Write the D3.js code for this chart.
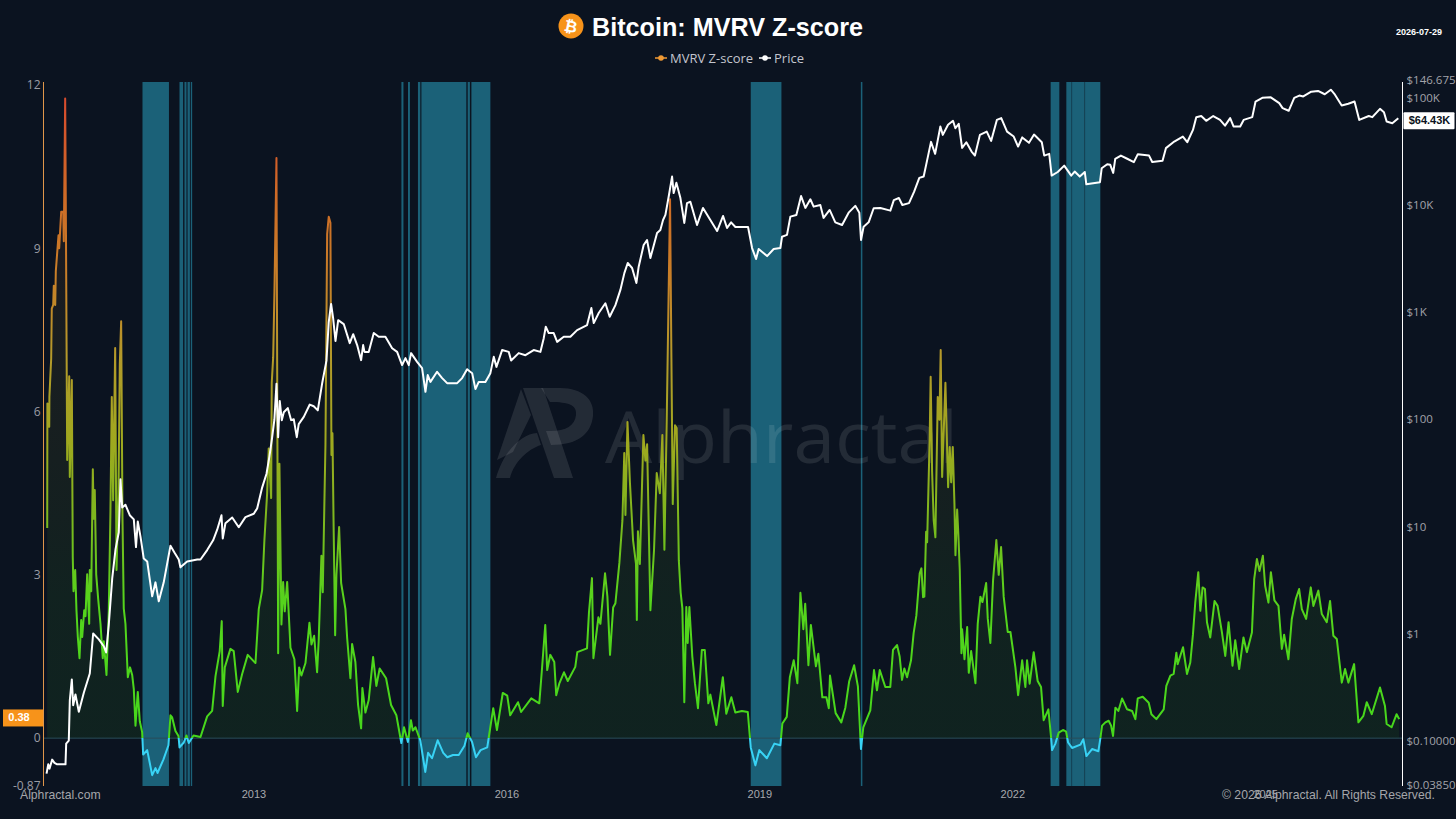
<!DOCTYPE html>
<html>
<head>
<meta charset="utf-8">
<title>Bitcoin: MVRV Z-score</title>
<script src="https://cdn.jsdelivr.net/npm/d3@7"></script>
<style>
    html, body { margin: 0; padding: 0; background: #0b1320; overflow: hidden; }
    svg { display: block; }
    .tick text { fill: #9b9ca4; font-family: "Open Sans", sans-serif; font-size: 12px; }
    .right-axis .tick text { font-size: 11.5px; fill: #a2a3aa; }
    .x-axis .tick text { fill: #a8a9ae; font-family: "Liberation Sans", Arial, sans-serif; font-size: 11px; }
</style>
</head>
<body>
<div id="chart"></div>
<script>
// MVRV Z-score (decimal year / score)
const zYears = [
    2010.554, 2010.556, 2010.578, 2010.58, 2010.601, 2010.608, 2010.625, 2010.632, 2010.649, 2010.656,
    2010.688, 2010.696, 2010.72, 2010.744, 2010.751, 2010.767, 2010.774, 2010.791, 2010.815, 2010.822,
    2010.846, 2010.857, 2010.866, 2010.886, 2010.901, 2010.917, 2010.937, 2010.957, 2010.969, 2010.993,
    2011.008, 2011.028, 2011.052, 2011.059, 2011.076, 2011.095, 2011.106, 2011.118, 2011.135, 2011.159,
    2011.186, 2011.213, 2011.225, 2011.257, 2011.284, 2011.304, 2011.32, 2011.336, 2011.36, 2011.376,
    2011.399, 2011.415, 2011.431, 2011.447, 2011.462, 2011.482, 2011.51, 2011.536, 2011.562, 2011.581,
    2011.601, 2011.628, 2011.652, 2011.68, 2011.692, 2011.74, 2011.799, 2011.838, 2011.862, 2011.933,
    2011.992, 2012.016, 2012.036, 2012.075, 2012.111, 2012.123, 2012.174, 2012.206, 2012.233, 2012.289,
    2012.372, 2012.451, 2012.51, 2012.55, 2012.6, 2012.624, 2012.636, 2012.66, 2012.727, 2012.766,
    2012.814, 2012.866, 2012.932, 2013.024, 2013.063, 2013.103, 2013.13, 2013.162, 2013.181, 2013.21,
    2013.217, 2013.234, 2013.249, 2013.273, 2013.293, 2013.308, 2013.332, 2013.352, 2013.371, 2013.4,
    2013.439, 2013.486, 2013.518, 2013.542, 2013.569, 2013.617, 2013.664, 2013.688, 2013.72, 2013.755,
    2013.774, 2013.806, 2013.822, 2013.854, 2013.874, 2013.893, 2013.913, 2013.925, 2013.937, 2013.952,
    2013.969, 2013.984, 2014.016, 2014.04, 2014.091, 2014.111, 2014.15, 2014.17, 2014.209, 2014.241,
    2014.277, 2014.292, 2014.328, 2014.367, 2014.419, 2014.458, 2014.497, 2014.573, 2014.632, 2014.695,
    2014.754, 2014.786, 2014.832, 2014.868, 2014.89, 2014.922, 2014.979, 2015.038, 2015.071, 2015.118,
    2015.185, 2015.251, 2015.299, 2015.366, 2015.435, 2015.503, 2015.54, 2015.593, 2015.639, 2015.694,
    2015.773, 2015.844, 2015.888, 2015.957, 2016.01, 2016.045, 2016.138, 2016.174, 2016.295, 2016.39,
    2016.419, 2016.461, 2016.484, 2016.52, 2016.568, 2016.591, 2016.627, 2016.683, 2016.728, 2016.817,
    2016.841, 2016.956, 2016.979, 2017.015, 2017.032, 2017.091, 2017.115, 2017.17, 2017.198, 2017.229,
    2017.266, 2017.293, 2017.34, 2017.376, 2017.398, 2017.412, 2017.436, 2017.465, 2017.502, 2017.537,
    2017.547, 2017.56, 2017.583, 2017.625, 2017.649, 2017.669, 2017.708, 2017.751, 2017.783, 2017.82,
    2017.85, 2017.874, 2017.901, 2017.941, 2017.957, 2017.973, 2018.0, 2018.02, 2018.045, 2018.067,
    2018.087, 2018.11, 2018.134, 2018.15, 2018.17, 2018.205, 2018.236, 2018.272, 2018.318, 2018.353,
    2018.395, 2018.419, 2018.49, 2018.522, 2018.567, 2018.608, 2018.668, 2018.715, 2018.793, 2018.863,
    2018.898, 2018.953, 2019.0, 2019.089, 2019.178, 2019.249, 2019.273, 2019.325, 2019.362, 2019.408,
    2019.451, 2019.487, 2019.522, 2019.544, 2019.582, 2019.611, 2019.671, 2019.7, 2019.747, 2019.795,
    2019.824, 2019.838, 2019.905, 2019.972, 2020.02, 2020.065, 2020.124, 2020.169, 2020.205, 2020.233,
    2020.316, 2020.36, 2020.395, 2020.428, 2020.494, 2020.553, 2020.585, 2020.633, 2020.664, 2020.692,
    2020.72, 2020.752, 2020.799, 2020.83, 2020.862, 2020.902, 2020.922, 2020.942, 2020.957, 2020.978,
    2020.99, 2021.02, 2021.032, 2021.049, 2021.068, 2021.088, 2021.116, 2021.136, 2021.151, 2021.168,
    2021.207, 2021.239, 2021.258, 2021.275, 2021.294, 2021.314, 2021.326, 2021.346, 2021.361, 2021.377,
    2021.397, 2021.405, 2021.433, 2021.465, 2021.484, 2021.512, 2021.563, 2021.59, 2021.622, 2021.646,
    2021.69, 2021.709, 2021.74, 2021.772, 2021.811, 2021.839, 2021.867, 2021.898, 2021.946, 2021.978,
    2022.037, 2022.069, 2022.117, 2022.155, 2022.175, 2022.206, 2022.254, 2022.301, 2022.341, 2022.372,
    2022.428, 2022.46, 2022.472, 2022.511, 2022.55, 2022.606, 2022.638, 2022.662, 2022.709, 2022.808,
    2022.843, 2022.879, 2022.946, 2023.021, 2023.045, 2023.065, 2023.104, 2023.143, 2023.172, 2023.195,
    2023.223, 2023.258, 2023.302, 2023.362, 2023.421, 2023.46, 2023.488, 2023.547, 2023.618, 2023.65,
    2023.709, 2023.796, 2023.827, 2023.875, 2023.914, 2023.946, 2023.961, 2024.025, 2024.072, 2024.111,
    2024.143, 2024.17, 2024.206, 2024.23, 2024.257, 2024.285, 2024.309, 2024.348, 2024.399, 2024.435,
    2024.487, 2024.526, 2024.565, 2024.612, 2024.644, 2024.691, 2024.742, 2024.782, 2024.842, 2024.869,
    2024.901, 2024.932, 2024.972, 2024.999, 2025.038, 2025.067, 2025.109, 2025.157, 2025.197, 2025.224,
    2025.275, 2025.315, 2025.363, 2025.402, 2025.434, 2025.485, 2025.54, 2025.571, 2025.63, 2025.671,
    2025.73, 2025.769, 2025.808, 2025.849, 2025.908, 2025.947, 2025.986, 2026.054, 2026.105, 2026.164,
    2026.204, 2026.263, 2026.361, 2026.42, 2026.44, 2026.499, 2026.558, 2026.589
];
const zValues = [
    3.86, 6.15, 5.72, 6.27, 6.97, 7.89, 7.96, 8.31, 7.96, 8.58,
    9.24, 9.0, 9.67, 9.67, 9.13, 11.75, 9.98, 5.11, 6.65, 4.8,
    6.58, 3.33, 2.7, 3.09, 2.35, 1.86, 1.47, 2.17, 1.86, 2.35,
    2.24, 3.01, 2.1, 3.09, 2.7, 4.94, 4.03, 4.56, 3.01, 2.55,
    2.1, 1.47, 1.78, 1.16, 2.32, 4.17, 6.27, 4.37, 7.17, 3.09,
    4.49, 6.87, 7.66, 4.03, 2.38, 2.1, 1.12, 1.3, 1.16, 0.9,
    0.23, 0.85, 0.31, 0.11, -0.30, -0.22, -0.68, -0.55, -0.64, -0.39,
    -0.13, 0.42, 0.38, 0.13, 0.04, -0.17, -0.08, 0.05, -0.09, 0.05,
    0.02, 0.40, 0.5, 1.14, 1.6, 2.15, 0.59, 1.3, 1.64, 1.6,
    0.85, 1.18, 1.53, 1.38, 2.37, 2.72, 3.64, 4.49, 5.32, 4.41,
    6.53, 7.0, 8.2, 10.66, 1.56, 5.04, 2.09, 2.87, 2.33, 2.87,
    1.66, 1.45, 0.5, 1.3, 1.15, 1.38, 2.12, 1.72, 1.88, 1.21,
    1.8, 3.35, 2.68, 5.39, 9.26, 9.58, 9.47, 5.2, 5.6, 3.77,
    1.89, 3.0, 3.88, 2.85, 2.37, 1.85, 1.1, 1.73, 1.4, 0.61,
    0.18, 0.92, 0.47, 0.7, 1.49, 0.96, 1.28, 1.1, 0.61, 0.42,
    -0.09, 0.2, -0.07, 0.33, 0.14, 0.2, -0.04, -0.62, -0.27, -0.37,
    -0.04, -0.27, -0.35, -0.31, -0.31, -0.14, 0.09, -0.07, -0.35, -0.22,
    -0.17, 0.55, 0.15, 0.83, 0.78, 0.42, 0.66, 0.48, 0.73, 0.64,
    1.21, 2.08, 1.25, 1.53, 1.4, 0.79, 1.0, 1.21, 1.05, 1.31,
    1.58, 1.65, 2.3, 2.94, 1.47, 2.22, 2.1, 3.03, 2.6, 1.53,
    2.4, 2.48, 3.22, 4.0, 5.24, 4.1, 5.81, 4.7, 3.64, 3.2,
    2.17, 3.8, 3.2, 5.57, 5.1, 5.4, 2.35, 3.46, 4.87, 4.5,
    5.57, 3.46, 5.8, 9.9, 7.0, 4.3, 5.75, 5.7, 3.27, 2.67,
    2.39, 0.66, 2.41, 1.75, 2.41, 1.5, 1.01, 0.55, 1.62, 1.62,
    0.64, 0.8, 0.24, 0.6, 1.12, 0.45, 0.75, 0.47, 0.5, 0.48,
    -0.17, -0.5, -0.22, -0.37, -0.1, -0.13, 0.27, 0.39, 1.12, 1.43,
    1.01, 2.67, 2.0, 2.47, 1.34, 2.08, 1.32, 1.55, 0.75, 0.75,
    0.55, 1.15, 0.46, 0.29, 0.56, 1.04, 1.34, 0.95, -0.2, 0.2,
    0.51, 1.25, 0.88, 1.25, 0.94, 0.94, 1.62, 1.71, 1.5, 1.07,
    1.28, 1.12, 1.43, 1.93, 2.25, 3.03, 3.12, 2.59, 2.6, 3.79,
    3.6, 5.5, 6.64, 4.9, 4.0, 3.69, 6.27, 5.85, 7.13, 4.8,
    6.53, 4.61, 5.35, 4.7, 5.35, 4.3, 3.36, 4.2, 3.72, 3.09,
    1.56, 2.0, 1.45, 2.04, 1.2, 1.6, 1.01, 2.1, 2.6, 2.5,
    2.85, 2.2, 1.75, 2.9, 3.64, 3.0, 3.51, 2.6, 1.95, 1.95,
    1.3, 0.79, 1.43, 0.94, 1.43, 1.0, 1.58, 1.05, 0.94, 0.33,
    0.53, 0.02, -0.22, -0.1, 0.1, 0.15, 0.12, -0.08, -0.18, -0.12,
    -0.02, -0.33, -0.2, -0.24, 0.0, 0.23, 0.29, 0.32, 0.23, 0.04,
    0.56, 0.5, 0.73, 0.53, 0.5, 0.35, 0.73, 0.76, 0.65, 0.44,
    0.35, 0.53, 0.96, 1.15, 1.18, 1.57, 1.36, 1.67, 1.18, 1.39,
    1.91, 2.49, 3.05, 2.34, 2.77, 2.74, 2.13, 1.85, 2.52, 2.43,
    1.94, 1.51, 2.13, 1.33, 1.8, 1.27, 1.85, 1.58, 1.94, 2.92,
    3.29, 3.07, 3.35, 2.8, 2.49, 3.05, 2.53, 2.43, 1.64, 1.9,
    1.45, 2.19, 2.56, 2.74, 2.37, 2.19, 2.77, 2.43, 2.71, 2.28,
    2.13, 2.52, 1.88, 1.82, 1.02, 1.27, 1.02, 1.36, 0.29, 0.41,
    0.66, 0.44, 0.93, 0.59, 0.26, 0.2, 0.44, 0.35
];

// BTC price in USD
const priceYears = [
    2010.546, 2010.566, 2010.581, 2010.613, 2010.64, 2010.672, 2010.771, 2010.779, 2010.81, 2010.822,
    2010.846, 2010.862, 2010.889, 2010.929, 2010.988, 2011.059, 2011.099, 2011.166, 2011.225, 2011.253,
    2011.284, 2011.325, 2011.364, 2011.403, 2011.423, 2011.443, 2011.482, 2011.533, 2011.581, 2011.607,
    2011.628, 2011.66, 2011.699, 2011.74, 2011.799, 2011.838, 2011.877, 2011.936, 2012.016, 2012.063,
    2012.114, 2012.134, 2012.214, 2012.333, 2012.372, 2012.451, 2012.522, 2012.57, 2012.621, 2012.636,
    2012.668, 2012.748, 2012.826, 2012.905, 2013.004, 2013.044, 2013.103, 2013.155, 2013.19, 2013.222,
    2013.249, 2013.273, 2013.293, 2013.312, 2013.336, 2013.36, 2013.407, 2013.447, 2013.478, 2013.514,
    2013.537, 2013.597, 2013.668, 2013.715, 2013.763, 2013.814, 2013.866, 2013.893, 2013.921, 2013.945,
    2013.973, 2014.005, 2014.071, 2014.142, 2014.183, 2014.23, 2014.277, 2014.301, 2014.317, 2014.367,
    2014.427, 2014.486, 2014.565, 2014.645, 2014.704, 2014.763, 2014.803, 2014.842, 2014.87, 2014.941,
    2015.0, 2015.04, 2015.067, 2015.099, 2015.178, 2015.238, 2015.297, 2015.416, 2015.475, 2015.534,
    2015.594, 2015.633, 2015.672, 2015.751, 2015.81, 2015.85, 2015.882, 2015.949, 2016.028, 2016.056,
    2016.146, 2016.226, 2016.324, 2016.403, 2016.443, 2016.467, 2016.502, 2016.561, 2016.602, 2016.68,
    2016.759, 2016.839, 2016.957, 2017.008, 2017.036, 2017.095, 2017.174, 2017.225, 2017.293, 2017.352,
    2017.399, 2017.439, 2017.491, 2017.542, 2017.569, 2017.628, 2017.668, 2017.708, 2017.787, 2017.826,
    2017.858, 2017.886, 2017.925, 2017.965, 2017.984, 2018.016, 2018.064, 2018.11, 2018.142, 2018.182,
    2018.261, 2018.332, 2018.419, 2018.499, 2018.57, 2018.617, 2018.665, 2018.716, 2018.866, 2018.914,
    2018.961, 2018.992, 2019.092, 2019.17, 2019.249, 2019.269, 2019.328, 2019.368, 2019.439, 2019.495,
    2019.546, 2019.605, 2019.644, 2019.723, 2019.762, 2019.834, 2019.901, 2019.981, 2020.059, 2020.138,
    2020.186, 2020.206, 2020.237, 2020.296, 2020.356, 2020.435, 2020.554, 2020.595, 2020.655, 2020.696,
    2020.775, 2020.836, 2020.897, 2020.949, 2020.996, 2021.036, 2021.085, 2021.147, 2021.176, 2021.238,
    2021.297, 2021.325, 2021.365, 2021.405, 2021.455, 2021.517, 2021.557, 2021.616, 2021.697, 2021.749,
    2021.817, 2021.869, 2021.938, 2022.017, 2022.069, 2022.118, 2022.198, 2022.258, 2022.35, 2022.379,
    2022.438, 2022.467, 2022.539, 2022.616, 2022.699, 2022.74, 2022.8, 2022.86, 2022.878, 2023.04,
    2023.06, 2023.126, 2023.162, 2023.197, 2023.221, 2023.288, 2023.363, 2023.442, 2023.489, 2023.622,
    2023.66, 2023.782, 2023.822, 2023.921, 2024.023, 2024.075, 2024.143, 2024.182, 2024.241, 2024.3,
    2024.383, 2024.464, 2024.523, 2024.584, 2024.624, 2024.703, 2024.744, 2024.846, 2024.885, 2024.965,
    2025.066, 2025.166, 2025.206, 2025.278, 2025.344, 2025.404, 2025.451, 2025.546, 2025.626, 2025.706,
    2025.778, 2025.827, 2025.907, 2025.985, 2026.059, 2026.115, 2026.228, 2026.27, 2026.361, 2026.408,
    2026.44, 2026.507, 2026.578
];
const priceValues = [
    0.0492, 0.06, 0.0547, 0.0664, 0.062, 0.06, 0.06, 0.0937, 0.1, 0.237,
    0.372, 0.214, 0.269, 0.186, 0.28, 0.423, 1.0, 0.88, 0.76, 0.664,
    1.2, 3.27, 6.1, 8.8, 27.5, 15, 15.9, 12.7, 11.6, 6.4,
    11.1, 8.07, 5.0, 4.7, 2.22, 3.0, 2.0, 3.0, 6.6, 5.7,
    4.9, 4.14, 4.7, 4.9, 4.9, 6.0, 7.4, 9.3, 12.7, 7.7,
    10.7, 12.1, 9.8, 12.2, 13.1, 14.7, 23, 31, 45, 68,
    100, 214, 68, 148, 98, 116, 127, 98, 100, 68,
    90, 105, 137, 132, 121, 214, 352, 807, 1190, 879,
    537, 840, 773, 513, 622, 492, 356, 492, 425, 425,
    637, 588, 588, 460, 425, 320, 372, 320, 414, 343,
    300, 180, 258, 223, 277, 242, 217, 217, 242, 293,
    269, 191, 223, 223, 269, 382, 308, 442, 425, 353,
    414, 396, 442, 425, 571, 729, 637, 637, 527, 588,
    588, 679, 756, 1090, 789, 980, 1210, 904, 1160, 1610,
    2310, 2870, 2580, 1870, 2650, 4230, 4710, 3200, 5470, 5840,
    7240, 8070, 12000, 18400, 12900, 16100, 11600, 6790, 10400, 10700,
    6500, 9380, 7240, 5710, 7890, 6100, 6880, 6220, 6220, 3960,
    3130, 3880, 3330, 3880, 3960, 5050, 5250, 7780, 8070, 12100,
    9380, 11300, 9640, 10000, 7570, 8980, 6880, 6500, 8470, 9810,
    8470, 4710, 6270, 6880, 9320, 9380, 8850, 11100, 11600, 10000,
    10400, 13300, 17900, 18400, 27500, 38800, 30000, 54000, 45100, 56000,
    61000, 52000, 57100, 34100, 38500, 31500, 28900, 45100, 48400, 39600,
    62200, 64600, 48400, 43500, 35100, 42700, 38000, 45400, 38500, 28900,
    30000, 18800, 20300, 23300, 18800, 20500, 18400, 20300, 15600, 16300,
    22000, 24000, 23700, 19900, 26900, 28900, 27000, 25100, 29800, 28900,
    25200, 25800, 33900, 39100, 43500, 38500, 50200, 66000, 67600, 61000,
    67600, 62200, 55000, 64600, 54000, 54000, 62200, 66000, 92300, 100000,
    101000, 89100, 80200, 75700, 100000, 105000, 103000, 114000, 116000, 108000,
    119000, 107000, 84700, 88000, 92300, 62200, 67600, 66000, 78900, 73400,
    60000, 58000, 64430
];

// periods with the score under zero (start / end, decimal year)
const bandStarts = [2011.684, 2012.123, 2012.182, 2012.218, 2012.257, 2014.755, 2014.833, 2014.951, 2014.992, 2015.541, 2015.585, 2018.898, 2020.204, 2022.455, 2022.641, 2022.709, 2022.863];
const bandEnds = [2011.998, 2012.166, 2012.206, 2012.246, 2012.273, 2014.779, 2014.856, 2014.979, 2015.525, 2015.567, 2015.81, 2019.262, 2020.222, 2022.558, 2022.704, 2022.858, 2023.044];

const xTicks = [2013, 2016, 2019, 2022, 2025];
const zTicks = [12, 9, 6, 3, 0, -0.87];
const priceTicks = [146675, 100000, 10000, 1000, 100, 10, 1, 0.1, 0.0385];
const priceTickLabels = ['$146.675K', '$100K', '$10K', '$1K', '$100', '$10', '$1', '$0.10000', '$0.03850'];

// score -> colour of the line
const colorScores = [-0.87, -0.001, 0, 2.5, 4, 5.5, 7, 8.5, 10, 12];
const colorValues = ['#38d3f5', '#38d3f5', '#45d81c', '#55d41c', '#7cb81e', '#a0a81f', '#b49a2a', '#c97f28', '#cf6a26', '#d9472f'];

const width = 1456, height = 819;
const plotTop = 82, plotBottom = 786, plotLeft = 43.5, plotRight = 1402.5;

const svg = d3.select('#chart').append('svg')
    .attr('width', width)
    .attr('height', height)
    .style('background', '#0b1320');

const x = d3.scaleLinear().domain([2010.51, 2026.628]).range([plotLeft, plotRight]);
const yZ = d3.scaleLinear().domain([-0.87, 12]).range([785.5, 85]);
const yPrice = d3.scaleLog().domain([0.0385, 146675]).range([785, 80]);

// gradients run over the whole score range, so the colour follows the value
const defs = svg.append('defs');
function addGradient(id) {
    const grad = defs.append('linearGradient')
        .attr('id', id)
        .attr('gradientUnits', 'userSpaceOnUse')
        .attr('x1', 0).attr('x2', 0)
        .attr('y1', yZ(-0.87)).attr('y2', yZ(12));
    const span = 12.87;
    colorScores.forEach((s, i) => {
        grad.append('stop')
            .attr('offset', (s + 0.87) / span)
            .attr('stop-color', colorValues[i]);
    });
}
addGradient('zLine');
addGradient('zFill');

// zero-score bands
svg.append('g').selectAll('rect')
    .data(d3.zip(bandStarts, bandEnds))
    .join('rect')
    .attr('x', d => x(d[0]))
    .attr('width', d => Math.max(1, x(d[1]) - x(d[0])))
    .attr('y', plotTop)
    .attr('height', plotBottom - plotTop)
    .attr('fill', '#1b6178');

// watermark
const mark = svg.append('g').attr('fill', '#ffffff').attr('fill-opacity', 0.1);
mark.append('path').attr('d', 'M523 388 L543 388 L573 478 L554 478 Z');
mark.append('path').attr('d', 'M496 478 C504 450 522 434 537 433 L541 445 C528 449 514 462 510 478 Z');
mark.append('path').attr('d', 'M497 460 L521 389 L531 415 L513 452 Z');
mark.append('path').attr('d', 'M541 388 L560 388 C583 388 595 400 593 416 C591 434 578 445 551 445 L546 431 C565 432 575 426 576 415 C577 405 569 402 550 402 Z');
mark.append('text')
    .attr('x', 605).attr('y', 463)
    .attr('font-family', '"Open Sans", sans-serif')
    .attr('font-weight', 400)
    .attr('font-size', 72)
    .attr('textLength', 353)
    .attr('lengthAdjust', 'spacingAndGlyphs')
    .text('Alphractal');

// score area + line
const zData = d3.zip(zYears, zValues);
const area = d3.area()
    .x(d => x(d[0]))
    .y0(yZ(0))
    .y1(d => yZ(Math.max(0, d[1])));
svg.append('path')
    .datum(zData)
    .attr('d', area)
    .attr('fill', 'url(#zFill)')
    .attr('fill-opacity', 0.08);

svg.append('line')
    .attr('x1', plotLeft).attr('x2', plotRight)
    .attr('y1', yZ(0)).attr('y2', yZ(0))
    .attr('stroke', '#294d59')
    .attr('stroke-width', 1);

const zLine = d3.line().x(d => x(d[0])).y(d => yZ(d[1]));
svg.append('path')
    .datum(zData)
    .attr('d', zLine)
    .attr('fill', 'none')
    .attr('stroke', 'url(#zLine)')
    .attr('stroke-width', 2)
    .attr('stroke-linejoin', 'round');

// price line
const priceLine = d3.line().x(d => x(d[0])).y(d => yPrice(d[1]));
svg.append('path')
    .datum(d3.zip(priceYears, priceValues))
    .attr('d', priceLine)
    .attr('fill', 'none')
    .attr('stroke', '#ffffff')
    .attr('stroke-width', 2)
    .attr('stroke-linejoin', 'round');

// axes
svg.append('line')
    .attr('x1', plotLeft).attr('x2', plotLeft)
    .attr('y1', plotTop).attr('y2', plotBottom)
    .attr('stroke', '#e0964a').attr('stroke-width', 1);
svg.append('line')
    .attr('x1', plotRight).attr('x2', plotRight)
    .attr('y1', plotTop).attr('y2', plotBottom)
    .attr('stroke', '#ffffff').attr('stroke-width', 1);

const leftAxis = svg.append('g')
    .attr('transform', `translate(${plotLeft},0)`)
    .call(d3.axisLeft(yZ).tickValues(zTicks).tickSize(0).tickPadding(3).tickFormat(d => String(d)));
leftAxis.select('.domain').remove();

const rightAxis = svg.append('g')
    .attr('class', 'right-axis')
    .attr('transform', `translate(${plotRight},0)`)
    .call(d3.axisRight(yPrice).tickValues(priceTicks).tickSize(0).tickPadding(4)
        .tickFormat(d => priceTickLabels[priceTicks.indexOf(d)]));
rightAxis.select('.domain').remove();

const bottomAxis = svg.append('g')
    .attr('class', 'x-axis')
    .attr('transform', 'translate(0,788)')
    .call(d3.axisBottom(x).tickValues(xTicks).tickSize(0).tickPadding(2).tickFormat(d3.format('d')));
bottomAxis.select('.domain').remove();

// last value tags
const lastZ = 0.38, lastPrice = 64430;
svg.append('rect')
    .attr('x', 3).attr('y', yZ(lastZ) - 8)
    .attr('width', 40).attr('height', 17)
    .attr('fill', '#f7931a');
svg.append('text')
    .attr('x', 19).attr('y', yZ(lastZ) + 4)
    .attr('text-anchor', 'middle')
    .attr('fill', '#ffffff')
    .attr('font-family', '"Liberation Sans", Arial, sans-serif')
    .attr('font-weight', 'bold').attr('font-size', 11)
    .text(lastZ.toFixed(2));
svg.append('rect')
    .attr('x', plotRight + 1).attr('y', yPrice(lastPrice) - 6)
    .attr('width', 51).attr('height', 17)
    .attr('rx', 1)
    .attr('fill', '#ffffff');
svg.append('text')
    .attr('x', plotRight + 27).attr('y', yPrice(lastPrice) + 6)
    .attr('text-anchor', 'middle')
    .attr('fill', '#0b1320')
    .attr('font-family', '"Liberation Sans", Arial, sans-serif')
    .attr('font-weight', 'bold').attr('font-size', 11)
    .text('$64.43K');

// title
svg.append('circle').attr('cx', 571).attr('cy', 26).attr('r', 12.5).attr('fill', '#f7931a');
svg.append('text')
    .attr('x', 571).attr('y', 32)
    .attr('text-anchor', 'middle')
    .attr('transform', 'rotate(12 571 26)')
    .attr('fill', '#ffffff')
    .attr('font-family', '"DejaVu Sans", sans-serif')
    .attr('font-weight', 'bold').attr('font-size', 16)
    .text('\u20bf');
svg.append('text')
    .attr('x', 592).attr('y', 36)
    .attr('fill', '#ffffff')
    .attr('font-family', '"Liberation Sans", Arial, sans-serif')
    .attr('font-weight', 'bold').attr('font-size', 25.2)
    .text('Bitcoin: MVRV Z-score');
svg.append('text')
    .attr('x', 1442).attr('y', 35)
    .attr('text-anchor', 'end')
    .attr('fill', '#ffffff')
    .attr('font-family', '"Liberation Sans", Arial, sans-serif')
    .attr('font-weight', 'bold').attr('font-size', 9)
    .text('2026-07-29');

// legend
const legendNames = ['MVRV Z-score', 'Price'];
const legendColors = ['#f09a34', '#ffffff'];
const legendX = [655, 759];
legendNames.forEach((name, i) => {
    const g = svg.append('g').attr('transform', `translate(${legendX[i]},58)`);
    g.append('line').attr('x1', 0).attr('x2', 12).attr('stroke', legendColors[i]).attr('stroke-width', 1.5);
    g.append('circle').attr('cx', 6).attr('r', 2.8).attr('fill', legendColors[i]);
    g.append('text')
        .attr('x', 15).attr('y', 4.5)
        .attr('fill', '#c4c6cf')
        .attr('font-family', '"Open Sans", sans-serif')
        .attr('font-size', 13)
        .text(name);
});

// footer
const footer = svg.append('g')
    .attr('fill', '#a5a6aa')
    .attr('font-family', '"Liberation Sans", Arial, sans-serif')
    .attr('font-size', 12.2);
footer.append('text').attr('x', 20).attr('y', 799).text('Alphractal.com');
footer.append('text').attr('x', 1222).attr('y', 799).text('\u00a9 2026 Alphractal. All Rights Reserved.');
</script>
</body>
</html>
